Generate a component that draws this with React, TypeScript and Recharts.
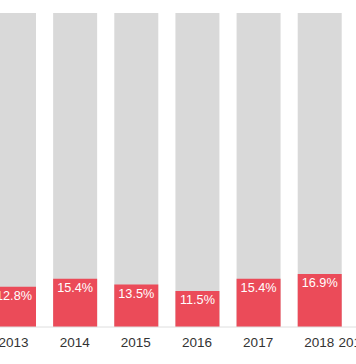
import { Bar, BarChart, LabelList, XAxis, YAxis } from 'recharts';

// Share per year; the grey part of each column is the bar background (the rest of 100%).
const years = ['2013', '2014', '2015', '2016', '2017', '2018', '2019 (to date)'];
const shares = [12.8, 15.4, 13.5, 11.5, 15.4, 16.9, 14.2];

const data = years.map((year, i) => ({ year, share: shares[i] }));

const FONT = '"Liberation Sans", Arial, Helvetica, sans-serif';

export default function App() {
  return (
    <div style={{ position: 'absolute', left: 0, top: 0, width: 356, height: 364, overflow: 'hidden', background: '#fff' }}>
      {/* the reference is a crop of a wider chart, so the plot starts left of the frame */}
      <div style={{ position: 'absolute', left: -16.6, top: 0 }}>
        <BarChart width={428} height={364} data={data} margin={{ top: 13, right: 0, bottom: 7, left: 0 }}>
          <YAxis hide domain={[0, 100]} />
          <XAxis
            dataKey="year"
            interval={0}
            height={30}
            tickLine={false}
            tickSize={0}
            tickMargin={10}
            axisLine={{ stroke: '#dedede' }}
            tick={{ fill: '#333', fontSize: 13.5, fontFamily: FONT }}
          />
          <Bar dataKey="share" fill="#eb4b59" barSize={44} background={{ fill: '#d9d9d9' }} isAnimationActive={false}>
            <LabelList
              dataKey="share"
              position="insideTop"
              offset={4}
              formatter={(v: number) => `${v.toFixed(1)}%`}
              style={{ fill: '#fff', fontSize: 12.7, fontFamily: FONT }}
            />
          </Bar>
        </BarChart>
      </div>
    </div>
  );
}
